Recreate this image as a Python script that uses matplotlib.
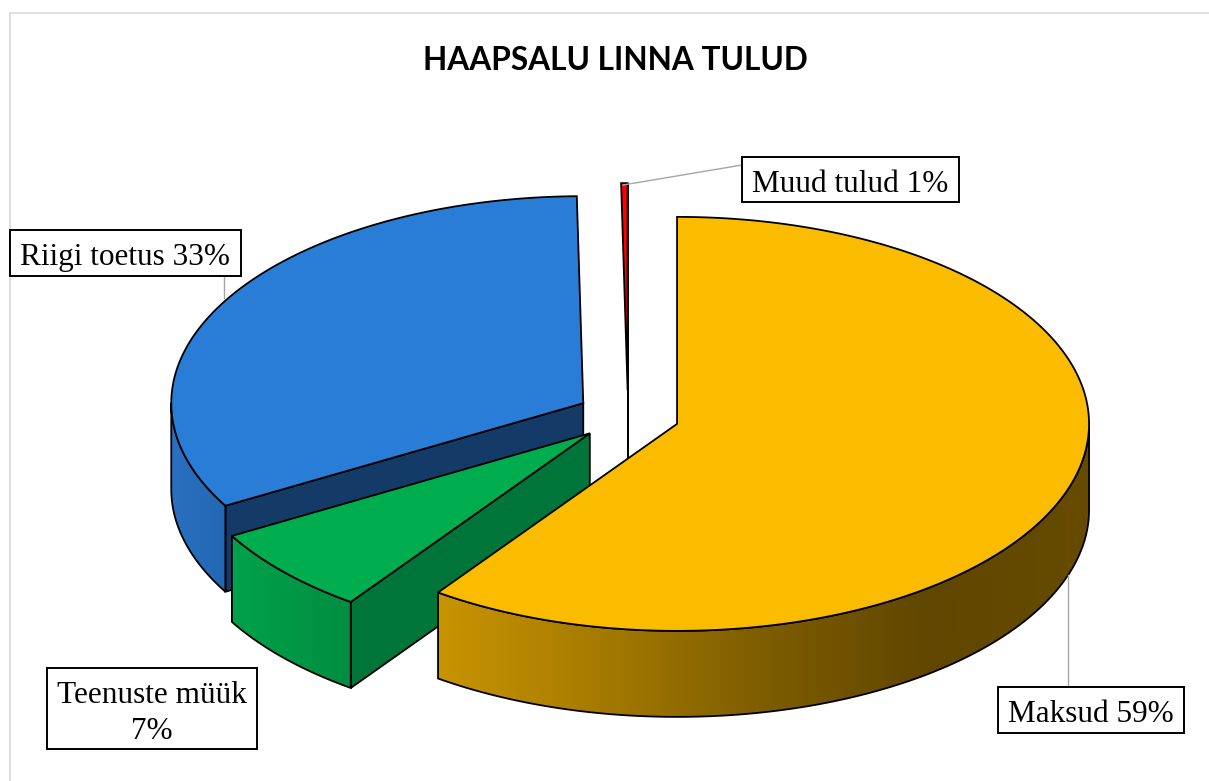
import numpy as np
from matplotlib import pyplot as plt
from matplotlib.colors import LinearSegmentedColormap
from matplotlib.patches import Polygon, Rectangle

# shares (printed labels are rounded)
categories = ["Maksud", "Teenuste müük", "Riigi toetus", "Muud tulud"]
shares = [59.85, 6.9, 33.0, 0.25]
labels = ["Maksud 59%", "Teenuste müük\n7%", "Riigi toetus 33%", "Muud tulud 1%"]
top_colors = ["#FBBC00", "#00AD4E", "#2A7DD6", "#FF0000"]
cut_colors = ["#644A00", "#00753A", "#143A68", "#5A0000"]
side_stops = [
    ["#C89400", "#A57A00", "#7E5D00", "#604600", "#664B00"],
    ["#00A24B", "#008D40"],
    ["#2A70C0", "#2368B4"],
    ["#8A0000", "#8A0000"],
]
title = "HAAPSALU LINNA TULUD"

CX, CY = 628, 416
A, B = 412, 207
DEPTH = 86
EXPLODE = 0.125
EDGE = "#000000"


def rim(cx, cy, angle):
    # angle in degrees, clockwise from the top of the pie
    th = np.radians(angle)
    return cx + A * np.sin(th), cy - B * np.cos(th)


def draw_wedge(ax, start, stop, top, cut, stops, draw_cut_at):
    mid = (start + stop) / 2
    cx, cy = rim(CX, CY, mid)
    cx = CX + (cx - CX) * EXPLODE
    cy = CY + (cy - CY) * EXPLODE

    # cut face towards the viewer
    if draw_cut_at is not None:
        rx, ry = rim(cx, cy, draw_cut_at)
        face = [(cx, cy), (rx, ry), (rx, ry + DEPTH), (cx, cy + DEPTH)]
        ax.add_patch(Polygon(face, closed=True, fc=cut, ec=EDGE, lw=1.3, zorder=2))

    # outer side, only the front half of the rim shows
    s0, s1 = max(start, 90), min(stop, 270)
    if s1 > s0:
        angs = np.linspace(s0, s1, 200)
        xs, ys = rim(cx, cy, angs)
        outline = np.vstack([np.column_stack([xs, ys]),
                             np.column_stack([xs[::-1], ys[::-1] + DEPTH])])
        side = Polygon(outline, closed=True, fc="none", ec=EDGE, lw=1.3, zorder=3)
        ax.add_patch(side)
        cmap = LinearSegmentedColormap.from_list("side", stops)
        im = ax.imshow(np.linspace(0, 1, 256).reshape(1, -1), cmap=cmap, aspect="auto",
                       extent=(xs.min(), xs.max(), ys.max() + DEPTH, ys.min()), zorder=2.5)
        im.set_clip_path(side)

    # top face
    angs = np.linspace(start, stop, 300)
    xs, ys = rim(cx, cy, angs)
    pts = np.vstack([[cx, cy], np.column_stack([xs, ys])])
    ax.add_patch(Polygon(pts, closed=True, fc=top, ec=EDGE, lw=1.3, zorder=4, joinstyle="miter"))
    return cx, cy


def label_box(ax, x0, y0, x1, y1, text):
    ax.add_patch(Rectangle((x0, y0), x1 - x0, y1 - y0, fc="white", ec="black", lw=1.4, zorder=20))
    ax.text((x0 + x1) / 2, (y0 + y1) / 2 + 5, text, ha="center", va="center", zorder=21,
            fontsize=22.5, family="Liberation Serif", color="black", linespacing=1.35)


def main():
    fig = plt.figure(figsize=(12.09, 7.81), dpi=100)
    ax = fig.add_axes([0, 0, 1, 1])
    ax.set_axis_off()

    # chart frame
    ax.plot([10, 10, 1209], [781, 13, 13], color="#D9D9D9", lw=1.2, zorder=1)

    ax.text(615, 61, title, ha="center", va="center", fontsize=22.8,
            fontweight="bold", family="Lato", color="black")

    edges = np.cumsum([0] + shares) / sum(shares) * 360
    cuts = [None, edges[1], edges[2], edges[4]]
    # back slices first so the front ones sit over them
    for i in [3, 2, 1, 0]:
        draw_wedge(ax, edges[i], edges[i + 1], top_colors[i], cut_colors[i], side_stops[i], cuts[i])

    # leader lines
    ax.plot([623, 742], [185, 165], color="#A6A6A6", lw=1, zorder=10)
    ax.plot([1068, 1068], [575, 687], color="#A6A6A6", lw=1, zorder=10)
    ax.plot([224, 224], [276, 298], color="#A6A6A6", lw=1, zorder=10)

    label_box(ax, 998, 687, 1184, 733, labels[0])
    label_box(ax, 47, 668, 257, 749, labels[1])
    label_box(ax, 10, 230, 241, 276, labels[2])
    label_box(ax, 742, 157, 959, 202, labels[3])

    ax.set_xlim(0, 1209)
    ax.set_ylim(781, 0)
    fig.savefig("out.png", dpi=100)


if __name__ == "__main__":
    main()
